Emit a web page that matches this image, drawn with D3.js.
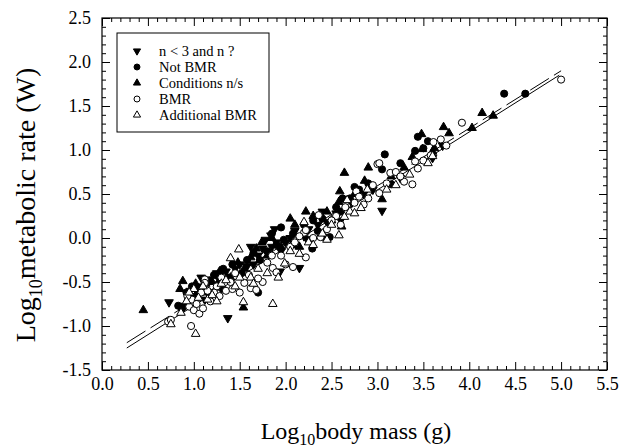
<!DOCTYPE html>
<html><head><meta charset="utf-8">
<script src="https://cdn.jsdelivr.net/npm/d3@7"></script>
<style>body{margin:0;background:#fff}svg{display:block}text{font-family:"Liberation Serif","Times New Roman",serif;fill:#000}</style>
</head><body><svg id="c" width="624" height="448"></svg>
<script>
// ---- data ----
const xTicks = [0.0,0.5,1.0,1.5,2.0,2.5,3.0,3.5,4.0,4.5,5.0,5.5];
const yTicks = [-1.5,-1.0,-0.5,0.0,0.5,1.0,1.5,2.0,2.5];
const legendLabels = ["n < 3 and n ?","Not BMR","Conditions n/s","BMR","Additional BMR"];

const nLess3 = [[0.73,-0.73],[0.90,-0.77],[0.96,-0.60],[1.05,-0.55],[1.15,-0.62],[1.00,-0.66],[1.37,-0.91],[1.25,-0.40],[1.35,-0.38],[1.50,-0.30],[1.45,-0.35],[1.28,-0.48],[1.70,-0.20],[1.75,-0.12],[1.84,0.03],[1.85,-0.10],[1.90,-0.05],[1.94,-0.38],[1.95,-0.15],[1.65,-0.30],[2.15,-0.34],[2.05,0.00],[2.10,0.08],[2.25,0.10],[2.35,0.15],[2.45,0.18],[2.60,0.20],[2.72,0.40],[2.85,0.50],[2.55,0.28],[3.05,0.31],[3.25,0.68],[3.60,0.91],[3.71,1.05],[1.12,-0.70],[1.58,-0.32],[1.88,0.10],[2.00,-0.05],[1.08,-0.45],[1.62,-0.10],[1.78,-0.02],[2.20,0.02],[2.40,0.30],[2.95,0.55],[1.30,-0.58]];
const notBMR = [[0.83,-0.77],[0.87,-0.80],[0.98,-0.55],[1.04,-0.60],[1.10,-0.58],[1.17,-0.48],[1.22,-0.42],[1.32,-0.35],[1.42,-0.30],[1.58,-0.25],[1.38,-0.45],[1.65,-0.17],[1.72,-0.25],[1.80,-0.15],[1.90,-0.08],[1.98,-0.02],[2.08,0.05],[2.20,0.15],[2.29,-0.12],[2.30,0.20],[2.40,0.22],[2.42,0.01],[2.48,0.01],[2.55,0.35],[2.70,0.45],[2.80,0.55],[2.75,0.58],[2.60,0.30],[3.08,0.95],[3.15,0.61],[3.05,0.78],[3.41,0.99],[3.44,1.15],[3.50,1.02],[4.38,1.64],[4.61,1.64],[1.70,-0.62],[1.95,0.12],[2.25,-0.02],[0.92,-0.62],[1.27,-0.52],[1.52,-0.40],[1.85,0.05],[2.12,-0.08],[2.35,0.08],[2.62,0.45],[2.90,0.62],[3.25,0.85],[3.55,1.10]];
const conditionsNS = [[0.45,-0.82],[0.85,-0.58],[0.88,-0.49],[0.94,-0.68],[1.02,-0.52],[1.13,-0.52],[1.20,-0.50],[1.28,-0.38],[1.48,-0.28],[1.54,-0.79],[1.55,-0.35],[1.62,-0.22],[1.74,-0.05],[1.85,0.00],[1.95,-0.10],[2.10,0.15],[2.15,-0.10],[2.30,0.25],[2.45,0.30],[2.58,0.41],[2.59,0.53],[2.61,0.13],[2.64,0.74],[2.86,0.65],[2.90,0.80],[3.05,0.44],[3.29,0.80],[3.49,1.01],[3.48,1.18],[3.62,1.02],[3.72,1.26],[3.78,1.19],[3.60,0.98],[4.03,1.25],[4.14,1.42],[4.26,1.39],[2.05,0.22],[1.80,-0.20],[1.10,-0.62],[1.40,-0.45],[1.68,-0.12],[2.22,0.30],[2.50,0.20],[2.75,0.50],[3.15,0.70],[3.38,0.92]];
const bmr = [[0.72,-0.95],[0.75,-0.93],[0.97,-1.00],[0.95,-0.78],[0.98,-0.70],[1.00,-0.82],[1.03,-0.75],[1.06,-0.86],[1.10,-0.80],[1.12,-0.47],[1.12,-0.51],[1.08,-0.62],[0.93,-0.66],[1.25,-0.55],[1.30,-0.45],[1.35,-0.60],[1.45,-0.40],[1.55,-0.51],[1.22,-0.62],[1.40,-0.50],[1.62,-0.57],[1.68,-0.59],[1.75,-0.50],[1.86,-0.34],[1.90,-0.39],[1.80,-0.28],[1.95,-0.20],[2.08,-0.33],[2.22,-0.22],[2.20,0.06],[2.22,0.09],[2.36,0.26],[2.05,-0.10],[2.10,-0.05],[2.30,0.00],[2.45,0.10],[2.00,-0.30],[2.38,0.01],[3.00,0.84],[3.02,0.85],[2.77,0.53],[2.80,0.47],[2.75,0.40],[2.55,0.25],[2.90,0.45],[2.95,0.60],[2.65,0.35],[3.14,0.74],[3.20,0.75],[3.02,0.51],[3.29,0.64],[3.38,0.61],[3.41,0.87],[3.44,0.79],[3.25,0.70],[3.61,1.09],[3.69,1.12],[3.58,0.94],[3.92,1.31],[5.00,1.80],[1.18,-0.72],[1.50,-0.62],[1.15,-0.60],[1.28,-0.66],[1.42,-0.58],[1.60,-0.42],[1.70,-0.46],[1.85,-0.20],[2.15,0.02],[2.50,0.20],[2.60,0.15],[2.85,0.38],[3.10,0.62],[3.50,0.88],[3.75,1.05]];
const additionalBMR = [[0.75,-0.98],[0.86,-0.85],[1.02,-1.09],[1.00,-0.58],[0.95,-0.62],[1.05,-0.68],[0.92,-0.72],[1.15,-0.70],[1.10,-0.55],[1.30,-0.52],[1.45,-0.55],[1.20,-0.65],[1.50,-0.45],[1.40,-0.23],[1.49,-0.13],[1.54,-0.73],[1.86,-0.75],[1.99,-0.29],[1.70,-0.35],[1.80,-0.40],[2.05,-0.15],[2.20,0.18],[2.25,-0.05],[2.40,0.05],[2.50,0.15],[2.58,0.03],[2.64,0.24],[2.70,0.30],[2.82,0.34],[2.89,0.55],[2.67,0.43],[3.10,0.55],[3.35,0.72],[3.55,0.85],[3.60,0.93],[1.62,-0.45],[2.15,-0.18],[1.25,-0.72],[1.35,-0.48],[1.65,-0.52],[1.92,-0.45],[2.30,-0.08],[2.45,-0.02],[2.75,0.28],[3.20,0.60]];

// regression lines (endpoints)
const solidLine = [[0.27,-1.25],[4.98,1.85]];
const dashedLine = [[0.27,-1.19],[5.00,1.90]];

// ---- drawing ----
const svg = d3.select("#c");
const L=102, R=607, T=18, B=370;
const x = d3.scaleLinear().domain([0,5.5]).range([L,R]);
const y = d3.scaleLinear().domain([-1.5,2.5]).range([B,T]);
const fmt = d => d.toFixed(1);
const xMinor = d3.range(0,5.501,0.1).map(v=>+v.toFixed(2)).filter(v=>Math.abs(v*2-Math.round(v*2))>1e-6);
const yMinor = d3.range(-1.5,2.501,0.1).map(v=>+v.toFixed(2)).filter(v=>Math.abs(v*2-Math.round(v*2))>1e-6);
const SERIF = "'Liberation Serif','Times New Roman',serif";

function styleAxis(g){ g.attr("font-family",SERIF); g.select(".domain").remove(); g.selectAll("line").attr("stroke","#000").attr("stroke-width",1); g.selectAll("text").attr("font-family",SERIF).style("font-family",SERIF).style("font-size","18px"); }

svg.append("g").attr("transform",`translate(0,${B})`).call(d3.axisBottom(x).tickValues(xTicks).tickFormat(fmt).tickSize(-8).tickPadding(7)).call(styleAxis);
svg.append("g").attr("transform",`translate(0,${B})`).call(d3.axisBottom(x).tickValues(xMinor).tickFormat("").tickSize(-4)).call(styleAxis);
svg.append("g").attr("transform",`translate(0,${T})`).call(d3.axisTop(x).tickValues(xTicks).tickFormat("").tickSize(-8)).call(styleAxis);
svg.append("g").attr("transform",`translate(0,${T})`).call(d3.axisTop(x).tickValues(xMinor).tickFormat("").tickSize(-4)).call(styleAxis);
svg.append("g").attr("transform",`translate(${L},0)`).call(d3.axisLeft(y).tickValues(yTicks).tickFormat(fmt).tickSize(-8).tickPadding(11)).call(styleAxis);
svg.append("g").attr("transform",`translate(${L},0)`).call(d3.axisLeft(y).tickValues(yMinor).tickFormat("").tickSize(-4)).call(styleAxis);
svg.append("g").attr("transform",`translate(${R},0)`).call(d3.axisRight(y).tickValues(yTicks).tickFormat("").tickSize(-8)).call(styleAxis);
svg.append("g").attr("transform",`translate(${R},0)`).call(d3.axisRight(y).tickValues(yMinor).tickFormat("").tickSize(-4)).call(styleAxis);

svg.append("rect").attr("x",L).attr("y",T).attr("width",R-L).attr("height",B-T).attr("fill","none").attr("stroke","#000").attr("stroke-width",1.2);

const line = d3.line().x(d=>x(d[0])).y(d=>y(d[1]));
svg.append("path").attr("d",line(solidLine)).attr("stroke","#000").attr("stroke-width",1).attr("fill","none");
svg.append("path").attr("d",line(dashedLine)).attr("stroke","#000").attr("stroke-width",1).attr("fill","none").attr("stroke-dasharray","22,6");

const series = [
  {data:nLess3, type:d3.symbolTriangle, rot:180, fill:"#000", size:32},
  {data:notBMR, type:d3.symbolCircle, rot:0, fill:"#000", size:40},
  {data:conditionsNS, type:d3.symbolTriangle, rot:0, fill:"#000", size:32},
  {data:bmr, type:d3.symbolCircle, rot:0, fill:"#fff", size:40},
  {data:additionalBMR, type:d3.symbolTriangle, rot:0, fill:"#fff", size:32}
];
series.forEach(s=>{
  svg.append("g").selectAll("path").data(s.data).join("path")
    .attr("d", d3.symbol().type(s.type).size(s.size))
    .attr("transform", d=>`translate(${x(d[0])},${y(d[1])}) rotate(${s.rot})`)
    .attr("fill", s.fill).attr("stroke","#000").attr("stroke-width", 1);
});

// legend
const lg = svg.append("g");
lg.append("rect").attr("x",117).attr("y",33).attr("width",152).attr("height",99).attr("fill","#fff").attr("stroke","#000").attr("stroke-width",1);
legendLabels.forEach((t,i)=>{
  const s = series[i];
  const yy = 51 + i*16;
  lg.append("path").attr("d", d3.symbol().type(s.type).size(s.size*0.7)).attr("transform",`translate(137,${yy}) rotate(${s.rot})`).attr("fill",s.fill).attr("stroke","#000").attr("stroke-width",1);
  lg.append("text").attr("x",159).attr("y",yy+5).attr("font-family",SERIF).style("font-size","14.5px").text(t);
});

// axis titles
const xt = svg.append("text").attr("x",356).attr("y",439).attr("text-anchor","middle").attr("font-family",SERIF).style("font-size","24px");
xt.append("tspan").text("Log");
xt.append("tspan").attr("dy",6).style("font-size","16px").text("10");
xt.append("tspan").attr("dy",-6).text("body mass (g)");
const yt = svg.append("text").attr("transform","translate(35,205) rotate(-90)").attr("text-anchor","middle").attr("font-family",SERIF).style("font-size","28px");
yt.append("tspan").text("Log");
yt.append("tspan").attr("dy",7).style("font-size","18px").text("10");
yt.append("tspan").attr("dy",-7).text("metabolic rate (W)");
</script></body></html>
